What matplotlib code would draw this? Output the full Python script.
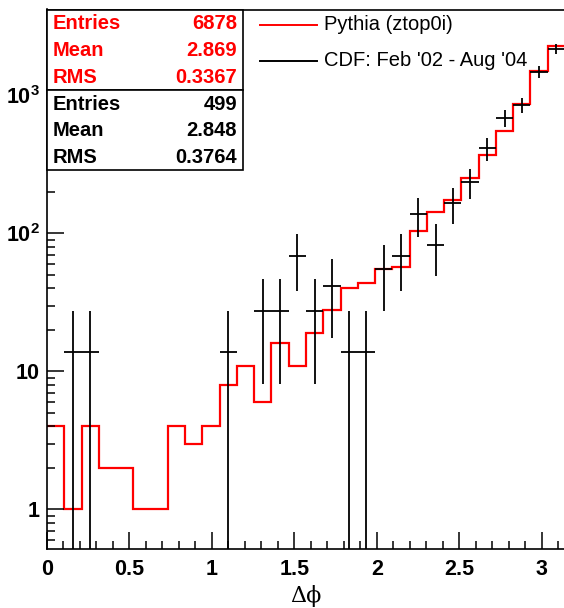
import numpy as np
import matplotlib
matplotlib.use("Agg")
import matplotlib.pyplot as plt
from matplotlib.lines import Line2D
from matplotlib.patches import Rectangle
from matplotlib.ticker import FixedLocator, MultipleLocator, NullFormatter

plt.rcParams['font.family'] = ['Liberation Sans', 'DejaVu Sans']
plt.rcParams['mathtext.fontset'] = 'custom'
plt.rcParams['mathtext.rm'] = 'Liberation Sans:bold'
plt.rcParams['mathtext.bf'] = 'Liberation Sans:bold'
plt.rcParams['mathtext.it'] = 'Liberation Sans:bold'

# ---------------- data ----------------
n_bins = 30
x_min, x_max = 0.0, np.pi

# Pythia (ztop0i) histogram, counts per bin
mc_counts = [4, 1, 4, 2, 2, 1, 1, 4, 3, 4,
             8, 11, 6, 16, 11, 19, 28, 40, 44, 55,
             57, 104, 142, 174, 253, 370, 552, 866, 1510, 2300]

# CDF data: bin index -> number of events
data_bins = [1, 2, 10, 12, 13, 14, 15, 16, 17, 18, 19, 20,
             21, 22, 23, 24, 25, 26, 27, 28, 29]
data_events = [1, 1, 1, 2, 2, 5, 2, 3, 1, 1, 4, 5,
               10, 6, 12, 17, 30, 50, 62, 108, 158]

mc_entries, mc_mean, mc_rms = 6878, 2.869, 0.3367
data_entries, data_mean, data_rms = 499, 2.848, 0.3764

legend_labels = ["Pythia (ztop0i)", "CDF: Feb '02 - Aug '04"]
x_ticks = [0, 0.5, 1, 1.5, 2, 2.5, 3]
x_tick_labels = ["0", "0.5", "1", "1.5", "2", "2.5", "3"]
y_ticks = [1, 10, 100, 1000]
y_tick_labels = [r"$1$", r"$10$", r"$10^{2}$", r"$10^{3}$"]
x_title = "\u0394\u03d5"

# ---------------- figure ----------------
W, H = 564, 608
fig = plt.figure(figsize=(W / 100, H / 100), dpi=100)

def fx(px):
    return px / W

def fy(py):
    return 1 - py / H

ax_l, ax_r, ax_t, ax_b = 47, 565, 9.5, 549
ax = fig.add_axes([fx(ax_l), fy(ax_b), (ax_r - ax_l) / W, (ax_b - ax_t) / H])

edges = np.linspace(x_min, x_max, n_bins + 1)
centers = 0.5 * (edges[:-1] + edges[1:])
half_w = 0.5 * (edges[1] - edges[0])

ax.stairs(mc_counts, edges, baseline=None, color='#ff0000', linewidth=1.6)

scale = mc_entries / data_entries
ev = np.array(data_events, dtype=float)
yd = ev * scale
err = np.sqrt(ev) * scale
xd = centers[data_bins]
ax.set_yscale('log', nonpositive='clip')
ax.errorbar(xd, yd, xerr=half_w, yerr=[err, err],
            fmt='none', ecolor='black', elinewidth=1.3, capsize=0)

ax.set_xlim(x_min, x_max)
ax.set_ylim(0.517, 4200)

ax.xaxis.set_major_locator(FixedLocator(x_ticks))
ax.set_xticklabels(x_tick_labels)
ax.xaxis.set_minor_locator(MultipleLocator(0.1))
ax.yaxis.set_major_locator(FixedLocator(y_ticks))
ax.set_yticklabels(y_tick_labels)
minor_y = [m * 10 ** e for e in range(-1, 4) for m in range(2, 10)]
ax.yaxis.set_minor_locator(FixedLocator(minor_y))
ax.yaxis.set_minor_formatter(NullFormatter())

ax.tick_params(which='both', direction='in', top=False, right=False,
               width=1.1, colors='black')
ax.tick_params(which='major', length=12, labelsize=15.5)
ax.tick_params(which='minor', length=6)
ax.tick_params(axis='x', which='major', pad=7)
ax.tick_params(axis='y', which='major', pad=5)
for lab in ax.get_xticklabels() + ax.get_yticklabels():
    lab.set_fontweight('bold')
for s in ax.spines.values():
    s.set_linewidth(1.2)

ax.set_xlabel(x_title, fontsize=16, family=['DejaVu Serif'], labelpad=4)

# ---------------- stats boxes ----------------
bx_l, bx_r = 47, 243
rows = [(9.5, 90, '#ff0000', mc_entries, mc_mean, mc_rms),
        (90, 170, 'black', data_entries, data_mean, data_rms)]
for top, bot, col, ent, mean, rms in rows:
    fig.patches.append(Rectangle((fx(bx_l), fy(bot)), (bx_r - bx_l) / W,
                                 (bot - top) / H, transform=fig.transFigure,
                                 facecolor='white', edgecolor='black',
                                 linewidth=1.2, zorder=5))
    h = (bot - top) / 3
    vals = ["Entries", "Mean", "RMS"]
    nums = [f"{ent}", f"{mean:.3f}", f"{rms:.4f}"]
    for i in range(3):
        yy = top + h * (i + 0.5) + 1
        fig.text(fx(53), fy(yy), vals[i], color=col, fontsize=14.5,
                 fontweight='bold', ha='left', va='center', zorder=6)
        fig.text(fx(237), fy(yy), nums[i], color=col, fontsize=14.5,
                 fontweight='bold', ha='right', va='center', zorder=6)

# ---------------- legend ----------------
leg_rows = [(25, '#ff0000', legend_labels[0]), (61, 'black', legend_labels[1])]
for yy, col, lab in leg_rows:
    fig.add_artist(Line2D([fx(260), fx(317)], [fy(yy), fy(yy)], color=col,
                          linewidth=1.4, transform=fig.transFigure))
    fig.text(fx(324), fy(yy), lab, fontsize=14.5, color='black',
             ha='left', va='center')

fig.savefig("out.png", dpi=100)
